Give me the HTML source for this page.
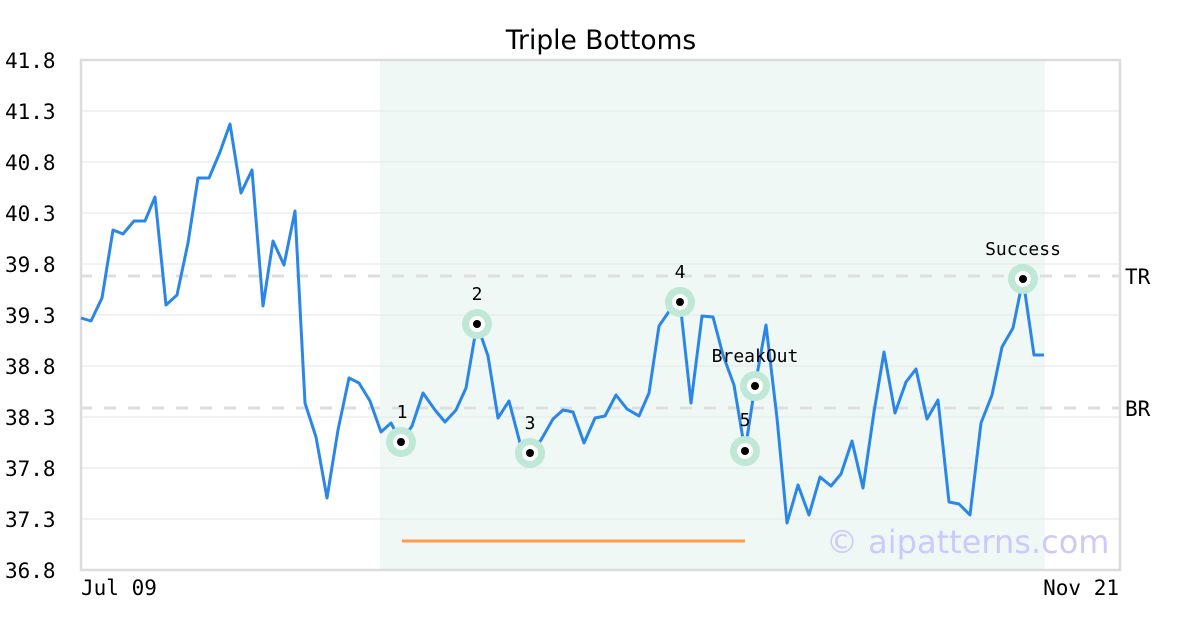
<!DOCTYPE html>
<html><head><meta charset="utf-8"><style>body{margin:0;background:#fff}svg{display:block}</style></head><body>
<svg width="1200" height="630" xmlns="http://www.w3.org/2000/svg">
<rect width="1200" height="630" fill="#fff"/>
<rect x="380" y="60" width="665" height="510" fill="#f0f8f5"/>
<g stroke="#e6e6e6" stroke-width="1">
<line x1="80" x2="1120" y1="111" y2="111"/><line x1="80" x2="1120" y1="162" y2="162"/><line x1="80" x2="1120" y1="213" y2="213"/><line x1="80" x2="1120" y1="264" y2="264"/><line x1="80" x2="1120" y1="315" y2="315"/><line x1="80" x2="1120" y1="366" y2="366"/><line x1="80" x2="1120" y1="417" y2="417"/><line x1="80" x2="1120" y1="468" y2="468"/><line x1="80" x2="1120" y1="519" y2="519"/>
</g>
<g stroke="#dedede" stroke-width="3" stroke-dasharray="12,12">
<line x1="80" x2="1120" y1="276" y2="276"/><line x1="80" x2="1120" y1="408" y2="408"/>
</g>
<rect x="81" y="60" width="1039" height="510" fill="none" stroke="#dcdcdc" stroke-width="2.5"/>
<line x1="402" x2="745" y1="541" y2="541" stroke="#ff9a4a" stroke-width="3"/>
<text x="826" y="553" font-family="DejaVu Sans, sans-serif" font-size="32" fill="#cccafa">© aipatterns.com</text>
<polyline fill="none" stroke="#2a87e8" stroke-width="3" stroke-linejoin="round" points="81,318 91,321 102,298 113,230 123,234 134,221 145,221 155,197 166,305 177,295 188,243 198,178 209,178 220,152 230,124 241,193 252,170 263,306 273,241 284,265 295,211 305,403 316,437 327,498 338,430 349,378 359,383 370,401 381,432 391,423 401,442 412,426 423,393 435,410 445,422 456,410 466,388 477,324 488,356 498,418 509,401 520,443 530,453 541,440 553,419 563,410 573,412 584,443 595,418 605,416 616,395 627,409 639,416 649,393 659,326 670,310 680,302 691,403 702,316 713,317 723,355 734,385 745,451 755,386 766,325 777,418 787,523 798,485 809,515 820,477 831,486 841,474 852,441 863,488 874,412 884,352 895,413 906,382 916,369 927,419 938,400 949,502 959,504 970,515 981,423 992,395 1002,347 1013,328 1023,279 1034,355 1044,355"/>
<g>
<circle cx="401" cy="442" r="15" fill="#bfe8d6"/><circle cx="401" cy="442" r="8" fill="#fff"/><circle cx="401" cy="442" r="4" fill="#000"/>
<circle cx="477" cy="324" r="15" fill="#bfe8d6"/><circle cx="477" cy="324" r="8" fill="#fff"/><circle cx="477" cy="324" r="4" fill="#000"/>
<circle cx="530" cy="453" r="15" fill="#bfe8d6"/><circle cx="530" cy="453" r="8" fill="#fff"/><circle cx="530" cy="453" r="4" fill="#000"/>
<circle cx="680" cy="302" r="15" fill="#bfe8d6"/><circle cx="680" cy="302" r="8" fill="#fff"/><circle cx="680" cy="302" r="4" fill="#000"/>
<circle cx="745" cy="451" r="15" fill="#bfe8d6"/><circle cx="745" cy="451" r="8" fill="#fff"/><circle cx="745" cy="451" r="4" fill="#000"/>
<circle cx="755" cy="386" r="15" fill="#bfe8d6"/><circle cx="755" cy="386" r="8" fill="#fff"/><circle cx="755" cy="386" r="4" fill="#000"/>
<circle cx="1023" cy="279" r="15" fill="#bfe8d6"/><circle cx="1023" cy="279" r="8" fill="#fff"/><circle cx="1023" cy="279" r="4" fill="#000"/>
</g>
<g font-family="DejaVu Sans Mono, Liberation Mono, monospace" font-size="18" fill="#000" text-anchor="middle">
<text x="402" y="418">1</text><text x="477" y="300">2</text><text x="530" y="429">3</text><text x="680" y="278">4</text><text x="745" y="426">5</text><text x="755" y="362">BreakOut</text><text x="1023" y="255">Success</text>
</g>
<text x="601" y="49" font-family="DejaVu Sans, sans-serif" font-size="26.5" text-anchor="middle">Triple Bottoms</text>
<g font-family="DejaVu Sans Mono, Liberation Mono, monospace" font-size="21" fill="#000">
<text x="5" y="68">41.8</text><text x="5" y="119">41.3</text><text x="5" y="170">40.8</text><text x="5" y="221">40.3</text><text x="5" y="272">39.8</text><text x="5" y="323">39.3</text><text x="5" y="374">38.8</text><text x="5" y="425">38.3</text><text x="5" y="476">37.8</text><text x="5" y="527">37.3</text><text x="5" y="578">36.8</text>
<text x="81" y="595">Jul 09</text><text x="1119" y="595" text-anchor="end">Nov 21</text>
<text x="1125" y="284">TR</text><text x="1125" y="416">BR</text>
</g>
</svg>
</body></html>
